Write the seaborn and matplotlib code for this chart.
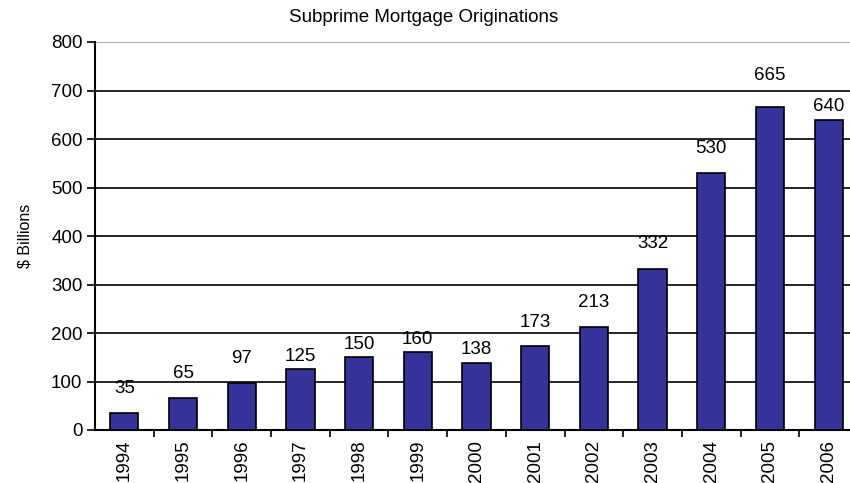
import matplotlib
matplotlib.use('Agg')
import matplotlib.pyplot as plt
import pandas as pd
import seaborn as sns

# Data
years = ['1994', '1995', '1996', '1997', '1998', '1999', '2000',
         '2001', '2002', '2003', '2004', '2005', '2006']
originations = [35, 65, 97, 125, 150, 160, 138, 173, 213, 332, 530, 665, 640]
y_ticks = [0, 100, 200, 300, 400, 500, 600, 700, 800]

# label gap above each bar (points), as placed in the original
label_gap = [11.5, 12, 11.5, 3.5, 3, 3.5, 3.5, 11, 11.5, 12, 11.5, 17, 3]

df = pd.DataFrame({'year': years, 'value': originations})

sns.set_style('white')
plt.rcParams['font.family'] = ['Liberation Sans', 'DejaVu Sans']
plt.rcParams['text.color'] = 'black'
plt.rcParams['axes.labelcolor'] = 'black'
plt.rcParams['xtick.color'] = 'black'
plt.rcParams['ytick.color'] = 'black'

fig = plt.figure(figsize=(8.5, 4.83), dpi=100)
ax = fig.add_axes([95 / 850, 1 - 430 / 483, (858 - 95) / 850, (430 - 42) / 483])

sns.barplot(data=df, x='year', y='value', color='#333399', saturation=1,
            edgecolor='black', linewidth=1.2, width=0.48, ax=ax, zorder=3)

ax.set_xlim(-0.5, len(years) - 0.5)
ax.set_ylim(0, 800)
ax.set_yticks(y_ticks)
ax.tick_params(axis='y', labelsize=13.5, length=6, width=1.2, direction='out',
               left=True, color='black', pad=3)

# x ticks between categories, labels centred under bars
ax.set_xticks([i + 0.5 for i in range(len(years) - 1)], minor=True)
ax.tick_params(axis='x', which='major', length=0, labelsize=13.5, labelrotation=90, pad=7)
ax.tick_params(axis='x', which='minor', length=5, width=1.2, direction='out',
               bottom=True, color='black')

ax.yaxis.grid(True, color='black', linewidth=1.2, zorder=0)
ax.set_axisbelow(True)
ax.get_ygridlines()[-1].set_color('#999999')

for s in ['top', 'right']:
    ax.spines[s].set_visible(False)
for s in ['left', 'bottom']:
    ax.spines[s].set_color('black')
    ax.spines[s].set_linewidth(1.5)

for bar, val, gap in zip(ax.patches, originations, label_gap):
    ax.annotate(str(val), (bar.get_x() + bar.get_width() / 2, bar.get_height()),
                xytext=(0, gap), textcoords='offset points',
                ha='center', va='bottom', fontsize=13.5)

ax.set_xlabel('')
ax.set_ylabel('$ Billions', fontsize=11.5, labelpad=13)
fig.text(424 / 850, 1 - 18 / 483, 'Subprime Mortgage Originations',
         ha='center', va='center', fontsize=13.5)

fig.savefig('out.png', dpi=100)
